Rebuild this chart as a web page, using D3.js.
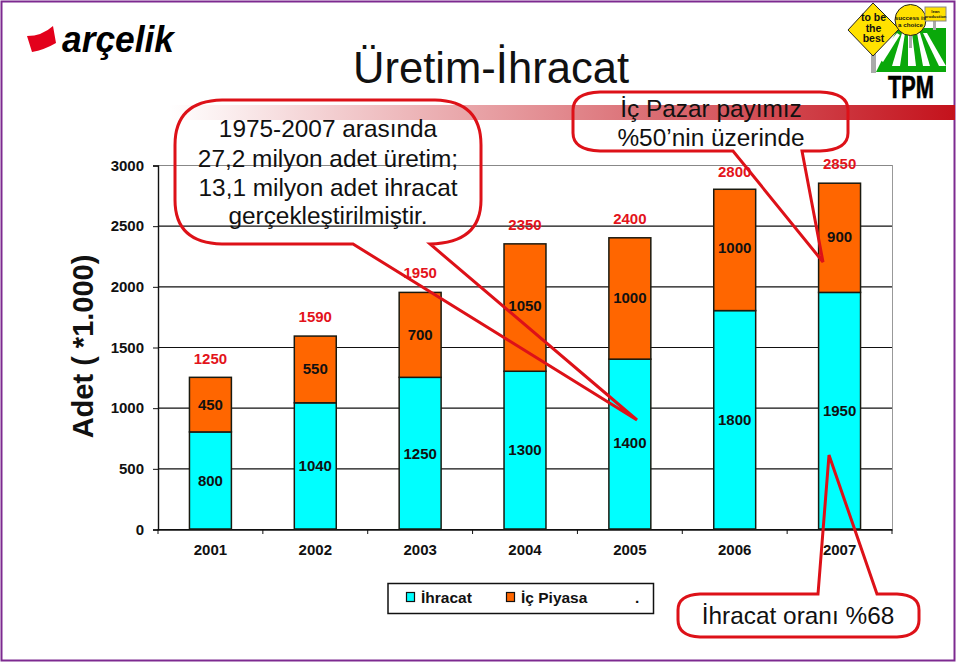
<!DOCTYPE html>
<html><head><meta charset="utf-8">
<script src="https://cdn.jsdelivr.net/npm/d3@7"></script>
<style>html,body{margin:0;padding:0;background:#fff}svg{display:block}text{font-family:"Liberation Sans",Arial,sans-serif}</style>
</head><body><svg id="c" width="960" height="664"></svg>
<script>
const years=["2001","2002","2003","2004","2005","2006","2007"];
const ihracat=[800,1040,1250,1300,1400,1800,1950];
const icPiyasa=[450,550,700,1050,1000,1000,900];
const totals=[1250,1590,1950,2350,2400,2800,2850];
const yTicks=[0,500,1000,1500,2000,2500,3000];
const legendItems=["İhracat","İç Piyasa","."];
const callout1=["1975-2007 arasında","27,2 milyon adet üretim;","13,1 milyon adet ihracat","gerçekleştirilmiştir."];
const callout2=["İç Pazar payımız","%50’nin üzerinde"];
const callout3=["İhracat oranı %68"];

const svg=d3.select("#c");
const defs=svg.append("defs");
const grad=defs.append("linearGradient").attr("id","band");
grad.append("stop").attr("offset",0).attr("stop-color","#fff");
grad.append("stop").attr("offset",1).attr("stop-color","#c4121c");

// frame
svg.append("rect").attr("x",1.5).attr("y",1.5).attr("width",953).attr("height",659).attr("fill","#fff").attr("stroke","#7d2a90").attr("stroke-width",2);
// band
svg.append("rect").attr("x",170).attr("y",105).attr("width",785).attr("height",15).attr("fill","url(#band)");

const x=d3.scaleBand().domain(years).range([158,892]).paddingInner(0.6).paddingOuter(0.3);
const y=d3.scaleLinear().domain([0,3000]).range([529,165]);

// grid
svg.append("g").selectAll("line").data(yTicks).join("line")
 .attr("x1",158).attr("x2",892).attr("y1",d=>y(d)+.5).attr("y2",d=>y(d)+.5)
 .attr("stroke",d=>d===3000?"#888":"#111").attr("stroke-width",1.2);
svg.append("line").attr("x1",892.5).attr("x2",892.5).attr("y1",165).attr("y2",529).attr("stroke","#999");

// axes
const ay=svg.append("g").attr("transform","translate(158,0.5)").call(d3.axisLeft(y).tickValues(yTicks).tickSize(5).tickPadding(9).tickFormat(d3.format("d")));
ay.select(".domain").attr("stroke","#111").attr("stroke-width",1.4);
ay.selectAll("line").attr("stroke","#111");
ay.selectAll("text").attr("font-size",15).attr("font-weight",700).attr("fill","#111").style("font-family","Liberation Sans");
const ax=svg.append("g").attr("transform","translate(0,529.5)").call(d3.axisBottom(x).tickSize(0).tickPadding(15));
ax.select(".domain").attr("stroke","#111").attr("stroke-width",1.4);
ax.selectAll("text").attr("font-size",15).attr("font-weight",700).attr("fill","#111").style("font-family","Liberation Sans");
svg.append("g").selectAll("line").data(years.concat("end")).join("line")
 .attr("x1",(d,i)=>x.range()[0]+i*x.step()).attr("x2",(d,i)=>x.range()[0]+i*x.step()).attr("y1",529).attr("y2",534).attr("stroke","#111");

// bars
const bars=svg.append("g").attr("stroke","#1a1a10").attr("stroke-width",1.5);
bars.selectAll(".a").data(years).join("rect").attr("class","a")
 .attr("x",d=>x(d)).attr("width",x.bandwidth())
 .attr("y",(d,i)=>y(ihracat[i])).attr("height",(d,i)=>y(0)-y(ihracat[i])).attr("fill","#00ffff");
bars.selectAll(".b").data(years).join("rect").attr("class","b")
 .attr("x",d=>x(d)).attr("width",x.bandwidth())
 .attr("y",(d,i)=>y(ihracat[i]+icPiyasa[i])).attr("height",(d,i)=>y(ihracat[i])-y(ihracat[i]+icPiyasa[i])).attr("fill","#ff6600");

// value labels, placed as in the picture
const lab=svg.append("g").attr("text-anchor","middle").attr("font-size",15).attr("font-weight",700);
const cx=d=>x(d)+x.bandwidth()/2;
lab.selectAll(".a").data(years).join("text").attr("class","a").attr("x",cx).attr("fill","#111")
 .attr("y",(d,i)=>[486,471,459,455,448,425,416][i]).text((d,i)=>ihracat[i]);
lab.selectAll(".b").data(years).join("text").attr("class","b").attr("x",cx).attr("fill","#111")
 .attr("y",(d,i)=>[410,374,340,311,303,253,242][i]).text((d,i)=>icPiyasa[i]);
lab.selectAll(".t").data(years).join("text").attr("class","t").attr("x",cx).attr("fill","#e3131b")
 .attr("y",(d,i)=>[364,322,278,230,224,177,169][i]).text((d,i)=>totals[i]);

// y title
svg.append("text").attr("transform","translate(93,346.5) rotate(-90)").attr("text-anchor","middle").attr("font-size",29).attr("font-weight",700).attr("fill","#111").text("Adet ( *1.000)");
// title
svg.append("text").attr("x",491).attr("y",83).attr("text-anchor","middle").attr("font-size",44).attr("textLength",276).attr("lengthAdjust","spacingAndGlyphs").attr("fill","#111").text("Üretim-İhracat");

// callouts
const red="#dd1118";
const ct=svg.append("g").attr("text-anchor","middle").attr("fill","#111").attr("font-size",24.4);
ct.selectAll(".c1").data(callout1).join("text").attr("class","c1").attr("x",328).attr("y",(d,i)=>[137,167,196,224][i]).text(d=>d);
ct.selectAll(".c2").data(callout2).join("text").attr("class","c2").attr("x",711).attr("y",(d,i)=>[117,146][i]).text(d=>d);
ct.selectAll(".c3").data(callout3).join("text").attr("class","c3").attr("x",798).attr("y",624).text(d=>d);
const outl=svg.append("g").attr("fill","none").attr("stroke",red).attr("stroke-width",3).attr("stroke-linejoin","miter");
outl.append("path").attr("d","M222 100H435Q481 101 481 145V200Q481 243 430 244L637 420L353 244H222Q175 243 175 200V145Q175 101 222 100Z");
outl.append("path").attr("d","M600 92H820Q848 93 848 110V133Q848 150 820 151H802L823 262L733 151H600Q573 150 573 133V110Q573 93 600 92Z");
outl.append("path").attr("d","M700 594H818L829 455L877 594H897Q919 595 919 610V620Q919 636 897 637H700Q678 636 678 620V610Q678 595 700 594Z");

// legend
svg.append("rect").attr("x",388).attr("y",583.5).attr("width",265.5).attr("height",30).attr("fill","#fff").attr("stroke","#111").attr("stroke-width",1.5);
const lx=[421,521,635], sw=["#00ffff","#ff6600",null];
const lg=svg.append("g");
lg.selectAll("rect").data(legendItems.filter((d,i)=>sw[i])).join("rect").attr("x",(d,i)=>lx[i]-14.5).attr("y",592.5).attr("width",8).attr("height",9).attr("fill",(d,i)=>sw[i]).attr("stroke","#111").attr("stroke-width",1.2);
lg.selectAll("text").data(legendItems).join("text").attr("x",(d,i)=>lx[i]).attr("y",603).attr("font-size",15.5).attr("font-weight",700).attr("fill","#111").text(d=>d);

// arcelik logo
svg.append("path").attr("d","M27 36Q42 36 53 26L56 43Q44 50 32 52Z").attr("fill","#e3001b");
svg.append("text").attr("x",62).attr("y",52).attr("font-size",36).attr("font-weight",700).attr("font-style","italic").attr("textLength",112).attr("lengthAdjust","spacingAndGlyphs").attr("fill","#000").text("arçelik");

// TPM badge
const tpm=svg.append("g");
tpm.append("path").attr("d","M876 72L946 72L946 28L898 28Z").attr("fill","#0aa80a");
["M877 57L883 62L900 35L897 33Z","M892 66L900 66L905 33L902 33Z","M908 66L916 66L912 33L908 33Z","M923 66L930 66L920 33L917 33Z","M939 66L946 66L927 33L923 33Z"]
 .forEach(d=>tpm.append("path").attr("d",d).attr("fill","#fff"));
tpm.append("rect").attr("x",871).attr("y",52).attr("width",5).attr("height",21).attr("fill","#aaa");
tpm.append("rect").attr("x",909).attr("y",30).attr("width",3).attr("height",18).attr("fill","#aaa");
tpm.append("rect").attr("x",933).attr("y",20).attr("width",3).attr("height",10).attr("fill","#aaa");
tpm.append("path").attr("d","M873 3L899 29L873 56L848 30Z").attr("fill","#ffe100").attr("stroke","#222");
tpm.append("circle").attr("cx",910.5).attr("cy",20).attr("r",15.5).attr("fill","#ffe100").attr("stroke","#222");
tpm.append("rect").attr("x",925).attr("y",7).attr("width",21).attr("height",14).attr("fill","#ffe100").attr("stroke","#888");
const tt=tpm.append("g").attr("text-anchor","middle").attr("font-weight",700).attr("fill","#111");
["to be","the","best"].forEach((t,i)=>tt.append("text").attr("x",873.5).attr("y",21+i*10.5).attr("font-size",10.5).text(t));
["success is","a choice"].forEach((t,i)=>tt.append("text").attr("x",910.5).attr("y",20+i*7).attr("font-size",6.2).text(t));
["lean","production"].forEach((t,i)=>tt.append("text").attr("x",935.5).attr("y",13+i*5).attr("font-size",4.2).text(t));
tpm.append("text").attr("x",911).attr("y",98).attr("text-anchor","middle").attr("font-size",31).attr("font-weight",700).attr("stroke","#000").attr("stroke-width",.6).attr("textLength",46).attr("lengthAdjust","spacingAndGlyphs").text("TPM");
</script></body></html>
